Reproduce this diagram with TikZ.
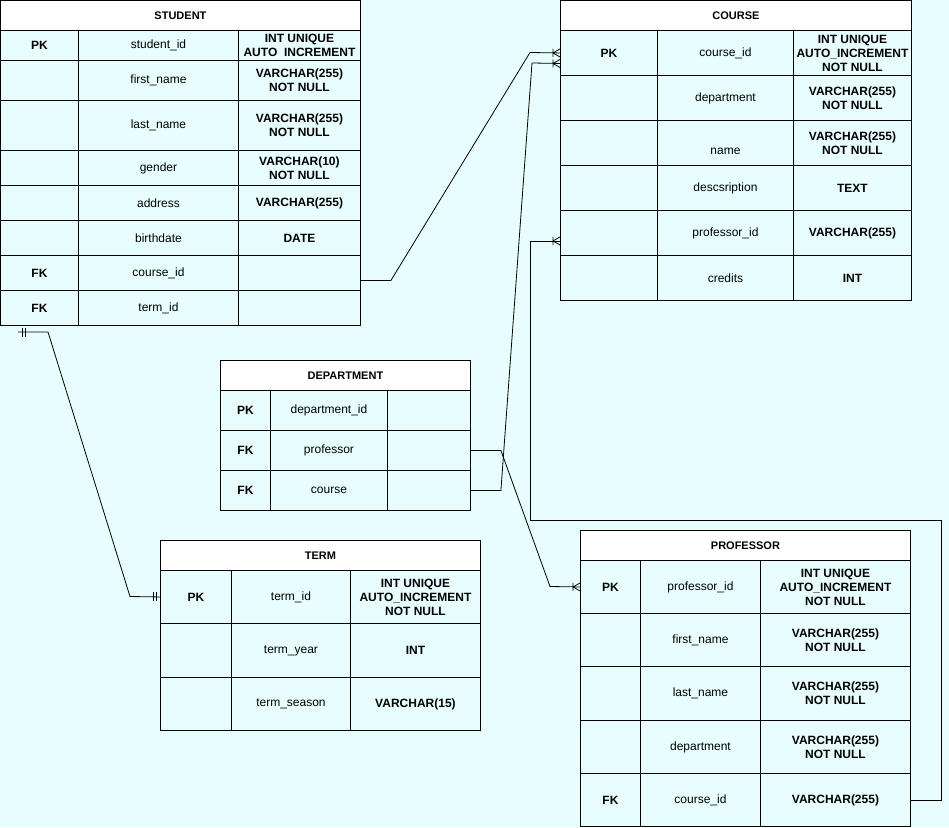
\documentclass[tikz,border=0pt]{standalone}
\usepackage{fontspec}
\setmainfont{Liberation Sans}
\definecolor{bgcyan}{RGB}{232,254,254}
\tikzset{
  cell/.style={draw, line width=0.9pt, anchor=north west, inner sep=0pt,
    align=center, font=\fontsize{12}{14}\selectfont},
  keycell/.style={cell, font=\fontsize{12}{14}\selectfont\bfseries},
  typecell/.style={cell, font=\fontsize{12}{14}\selectfont\bfseries},
  head/.style={cell, fill=white, minimum height=30,
    font=\fontsize{11}{13}\selectfont\bfseries},
  link/.style={line width=0.8pt},
  manyend/.pic={\draw[link] (-7,-4) -- (-7,4) (-7,0) -- (0,-4) (-7,0) -- (0,4);},
  oneend/.pic={\draw[link] (-4,-4.5) -- (-4,4.5) (-7,-4.5) -- (-7,4.5);}
}
\begin{document}
\begin{tikzpicture}[x=1pt, y=-1pt]
    \useasboundingbox (0,0) rectangle (949,827);
    \fill[bgcyan] (0,0) rectangle (949,827);

    % student
    \node[head, minimum width=360] (stu) at (0,0) {STUDENT};
    \foreach \rw/\yy/\hh/\kk/\nm/\ty in {
        1/30/30/PK/student\_id/{INT UNIQUE\\AUTO\ \ INCREMENT},
        2/60/40/{}/first\_name/{VARCHAR(255)\\NOT NULL},
        3/100/50/{}/last\_name/{VARCHAR(255)\\NOT NULL},
        4/150/35/{}/gender/{VARCHAR(10)\\NOT NULL},
        5/185/35/{}/address/{VARCHAR(255)},
        6/220/35/{}/birthdate/{DATE},
        7/255/35/FK/course\_id/{},
        8/290/35/FK/term\_id/{}}{
        \node[keycell, minimum width=78, minimum height=\hh] (stu-k\rw) at (0,\yy) {\kk};
        \node[cell, minimum width=160, minimum height=\hh] (stu-n\rw) at (78,\yy) {\nm};
        \node[typecell, minimum width=122, minimum height=\hh] (stu-t\rw) at (238,\yy) {\ty};
    }

    % course
    \node[head, minimum width=351] (crs) at (560,0) {COURSE};
    \foreach \rw/\yy/\kk/\nm/\ty in {
        1/30/PK/course\_id/{INT UNIQUE\\AUTO\_INCREMENT\\NOT NULL},
        2/75/{}/department/{VARCHAR(255)\\NOT NULL},
        3/120/{}/{\strut\\name}/{VARCHAR(255)\\NOT NULL},
        4/165/{}/descsription/{TEXT},
        5/210/{}/professor\_id/{VARCHAR(255)},
        6/255/{}/credits/{INT}}{
        \node[keycell, minimum width=97, minimum height=45] (crs-k\rw) at (560,\yy) {\kk};
        \node[cell, minimum width=136, minimum height=45] (crs-n\rw) at (657,\yy) {\nm};
        \node[typecell, minimum width=118, minimum height=45] (crs-t\rw) at (793,\yy) {\ty};
    }

    % department
    \node[head, minimum width=250] (dep) at (220,360) {DEPARTMENT};
    \foreach \rw/\yy/\kk/\nm in {1/390/PK/department\_id, 2/430/FK/professor, 3/470/FK/course}{
        \node[keycell, minimum width=50, minimum height=40] (dep-k\rw) at (220,\yy) {\kk};
        \node[cell, minimum width=117, minimum height=40] (dep-n\rw) at (270,\yy) {\nm};
        \node[typecell, minimum width=83, minimum height=40] (dep-t\rw) at (387,\yy) {};
    }

    % term
    \node[head, minimum width=320] (trm) at (160,540) {TERM};
    \foreach \rw/\yy/\hh/\kk/\nm/\ty in {
        1/570/53/PK/term\_id/{INT UNIQUE\\AUTO\_INCREMENT\\NOT NULL},
        2/623/54/{}/term\_year/{INT},
        3/677/53/{}/term\_season/{VARCHAR(15)}}{
        \node[keycell, minimum width=71, minimum height=\hh] (trm-k\rw) at (160,\yy) {\kk};
        \node[cell, minimum width=119, minimum height=\hh] (trm-n\rw) at (231,\yy) {\nm};
        \node[typecell, minimum width=130, minimum height=\hh] (trm-t\rw) at (350,\yy) {\ty};
    }

    % professor
    \node[head, minimum width=330] (prof) at (580,530) {PROFESSOR};
    \foreach \rw/\yy/\hh/\kk/\nm/\ty in {
        1/560/53/PK/professor\_id/{INT UNIQUE\\AUTO\_INCREMENT\\NOT NULL},
        2/613/53/{}/first\_name/{VARCHAR(255)\\NOT NULL},
        3/666/54/{}/last\_name/{VARCHAR(255)\\NOT NULL},
        4/720/53/{}/department/{VARCHAR(255)\\NOT NULL},
        5/773/53/FK/course\_id/{VARCHAR(255)}}{
        \node[keycell, minimum width=60, minimum height=\hh] (prof-k\rw) at (580,\yy) {\kk};
        \node[cell, minimum width=120, minimum height=\hh] (prof-n\rw) at (640,\yy) {\nm};
        \node[typecell, minimum width=150, minimum height=\hh] (prof-t\rw) at (760,\yy) {\ty};
    }

    % relations
    \coordinate (stuterm) at (18,332);
    \draw[link] (stuterm) -- (48,332) -- (130,596.5) -- (trm-k1.west);
    \pic[xscale=-1] at (stuterm) {oneend};
    \pic at (trm-k1.west) {oneend};

    \draw[link] ([yshift=-7.5pt]stu-t7.east) -- ++(30,0) -- (530,52.5) -- (crs-k1.west);
    \pic at (crs-k1.west) {manyend};

    \draw[link] (dep-t3.east) -- ++(30,0) -- (532,63) -- ([yshift=-10.5pt]crs-k1.west);
    \pic at ([yshift=-10.5pt]crs-k1.west) {manyend};

    \draw[link] (dep-t2.east) -- ++(30,0) -- (550,586.5) -- (prof-k1.west);
    \pic at (prof-k1.west) {manyend};

    \draw[link] (prof-t5.east) -- ++(30,0) |- (530,520) |- ([yshift=-8pt]crs-k5.west);
    \pic at ([yshift=-8pt]crs-k5.west) {manyend};
\end{tikzpicture}
\end{document}
